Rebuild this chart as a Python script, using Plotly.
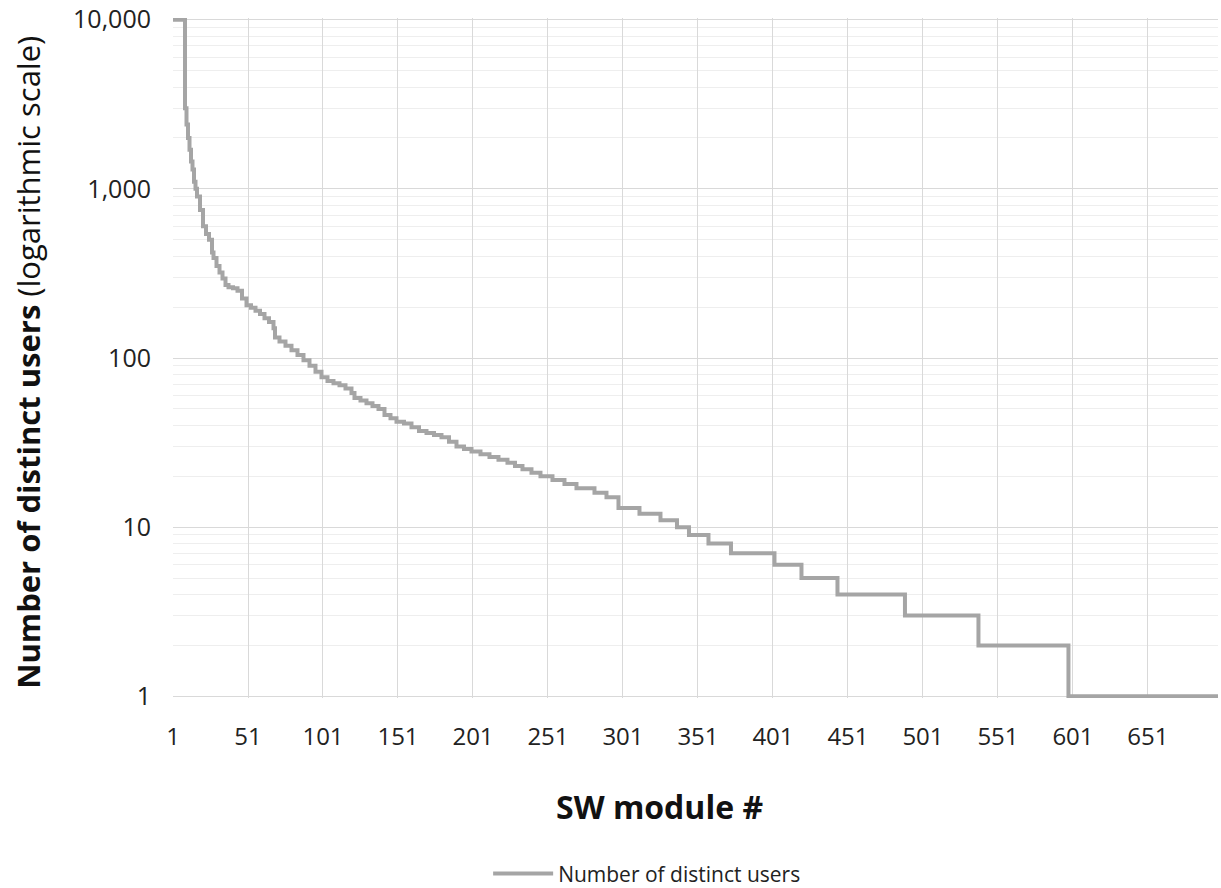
import plotly.graph_objects as go

# Step breakpoints: module # where a value starts, and the value
module_no = [1, 9, 10, 11, 12, 13, 14, 15, 16, 17, 19, 21, 23, 25, 27, 28, 30, 32, 34, 36,
             38, 41, 44, 47, 50, 53, 56, 59, 62, 65, 68, 69, 72, 76, 80, 84, 88, 92, 96, 100,
             104, 108, 112, 116, 120, 122, 126, 130, 134, 138, 142, 146, 150, 155, 160, 165,
             170, 175, 180, 185, 190, 195, 200, 206, 212, 218, 224, 229, 234, 240, 246, 254,
             262, 270, 282, 290, 298, 312, 326, 337, 345, 358, 373, 402, 420, 444, 489, 538,
             598, 698]
users = [10000, 3000, 2400, 2000, 1700, 1450, 1300, 1100, 1000, 900, 750, 600, 540, 500, 420,
         390, 350, 320, 295, 270, 262, 258, 250, 225, 205, 198, 190, 182, 172, 163, 150, 132,
         125, 118, 111, 104, 97, 90, 83, 77, 73, 71, 69, 66, 62, 58, 56, 54, 52, 50, 46, 44,
         42, 41, 39, 37, 36, 35, 34, 32, 30, 29, 28, 27, 26, 25, 24, 23, 22, 21, 20, 19, 18,
         17, 16, 15, 13, 12, 11, 10, 9, 8, 7, 6, 5, 4, 3, 2, 1, 1]

x_ticks = [1, 51, 101, 151, 201, 251, 301, 351, 401, 451, 501, 551, 601, 651]
y_ticks = [1, 10, 100, 1000, 10000]
y_ticktext = ["1", "10", "100", "1,000", "10,000"]

FONT = "Open Sans"
minor_vals = [m * 10 ** d for d in range(4) for m in range(2, 10)]

fig = go.Figure()
fig.add_trace(go.Scatter(
    x=module_no, y=users, mode="lines", line_shape="hv",
    line=dict(color="#a5a5a5", width=4),
    name="Number of distinct users",
))

fig.update_layout(
    width=1221, height=888,
    margin=dict(l=173, r=3, t=18, b=190, autoexpand=False),
    paper_bgcolor="white", plot_bgcolor="white",
    font=dict(family=FONT, color="#222222"),
    showlegend=True,
    legend=dict(orientation="h", xref="container", yref="container",
                x=0.530, xanchor="center", y=0.0158, yanchor="middle",
                font=dict(size=21, color="#222222"), bgcolor="rgba(0,0,0,0)", itemwidth=60),
    xaxis=dict(
        range=[1, 697.7], tickvals=x_ticks, showgrid=True, gridcolor="#d9d9d9", gridwidth=1,
        zeroline=False, showline=False, ticks="", ticklabelstandoff=22, automargin=False,
        ticklabeloverflow="allow", tickfont=dict(size=24, color="#222222"),
    ),
    yaxis=dict(
        type="log", range=[-0.01, 4.01], tickvals=y_ticks, ticktext=y_ticktext,
        showgrid=True, gridcolor="#d9d9d9", gridwidth=1, zeroline=False, showline=False,
        ticks="", ticklabelstandoff=21, automargin=False, ticklabeloverflow="allow",
        tickfont=dict(size=25, color="#222222"),
        minor=dict(tickvals=minor_vals, showgrid=True, gridcolor="#eeeeee", gridwidth=1, ticks=""),
    ),
    annotations=[
        dict(text="<b>SW module #</b>", xref="paper", yref="paper", x=0.466, y=-0.160,
             xanchor="center", yanchor="middle", showarrow=False,
             font=dict(size=32, color="#111111", family=FONT)),
        dict(text="<b>Number of distinct users</b> (logarithmic scale)", xref="paper", yref="paper",
             x=-0.139, y=0.494, xanchor="center", yanchor="middle", textangle=-90,
             showarrow=False, font=dict(size=31, color="#111111", family=FONT)),
    ],
)

fig.write_html("out.html", config={"displayModeBar": False},
               post_script="document.body.style.margin='0';document.body.style.overflow='hidden';")
